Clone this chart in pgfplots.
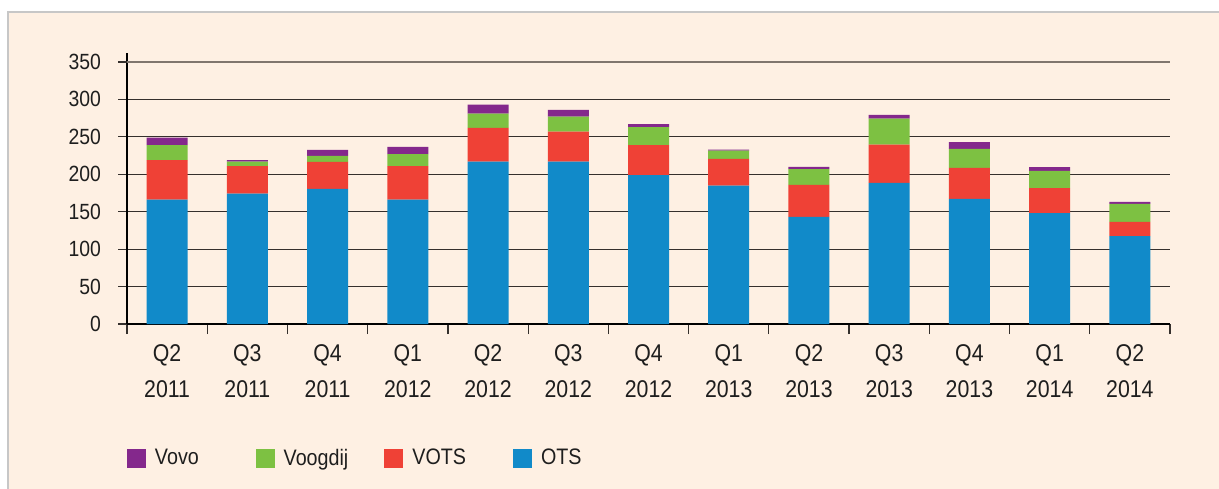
\documentclass[border=0pt]{standalone}
\usepackage{pgfplots}
\pgfplotsset{compat=1.18}
\usepackage{pgfplotstable}
\usepackage{fontspec}
\setmainfont{Liberation Sans}[FakeStretch=0.88]
\definecolor{bg}{HTML}{FEF0E3}
\definecolor{cOTS}{HTML}{118AC9}
\definecolor{cVOTS}{HTML}{EF4136}
\definecolor{cVoog}{HTML}{7DC142}
\definecolor{cVovo}{HTML}{84288C}
\definecolor{gridc}{HTML}{35302D}
\definecolor{gridtop}{HTML}{80766E}
\definecolor{txt}{HTML}{1E1E1E}

\pgfplotstableread{
x OTS VOTS Voogdij Vovo
0 166 53 20 10
1 174 37 6 2
2 180.5 36 8 8
3 166 45 16 9.5
4 217 45 19 12
5 217 40 20 9
6 199 40 24 4
7 185 35.5 11 1.5
8 143 43 21 3
9 188.5 51 35 5
10 167 41.5 25.5 9
11 148 33.5 23 5
12 117.5 19 24 2.5
}\datatable

\pgfplotsset{sqlegend/.style={legend image code/.code={\fill[##1] (0pt,-4.75pt) rectangle (9.5pt,4.75pt);}}}

\begin{document}
\begin{tikzpicture}
\useasboundingbox (-63.5pt,-82pt) rectangle (546pt,162pt);
\fill[white] (-63.5pt,-82pt) rectangle (546pt,162pt);
\filldraw[fill=bg, draw=black!22, line width=0.6pt] (-59.5pt,156pt) rectangle (560pt,-100pt);
\begin{axis}[at={(0,0)}, anchor=south west, scale only axis,
  width=521.5pt, height=135.5pt,
  ybar stacked, bar width=20.5pt,
  xmin=-0.5, xmax=12.5, ymin=0, ymax=362,
  axis x line*=bottom, axis y line*=left,
  axis line style={black, line width=0.6pt},
  xtick=data,
  xticklabels={{Q2\\2011},{Q3\\2011},{Q4\\2011},{Q1\\2012},{Q2\\2012},{Q3\\2012},{Q4\\2012},{Q1\\2013},{Q2\\2013},{Q3\\2013},{Q4\\2013},{Q1\\2014},{Q2\\2014}},
  x tick label style={align=center, font=\fontsize{12.1}{18}\selectfont, text=txt, yshift=-2.2pt},
  y tick label style={font=\fontsize{11}{13}\selectfont, text=txt, xshift=-5pt},
  /pgf/number format/assume math mode=true,
  major x tick style={draw=none},
  minor xtick={-0.5,0.5,...,12.5},
  minor tick length=5pt,
  ytick={0,50,...,300},
  extra y ticks={350},
  extra y tick style={grid style={gridtop, line width=0.7pt}},
  ymajorgrids,
  grid style={gridc, line width=0.6pt},
  tick align=outside, major tick length=4.5pt,
  tick style={gridc, line width=0.6pt},
  legend columns=4,
  reverse legend,
  legend style={at={(rel axis cs:0,0)}, anchor=west, yshift=-67.25pt,
    draw=none, fill=none, inner sep=0pt, outer sep=0pt,
    font=\fontsize{11.2}{13}\selectfont, text=txt,
    nodes={inner xsep=0pt, text width=50.35pt, align=left},
    /tikz/every odd column/.append style={column sep=4.5pt}},
]
\addplot[fill=cOTS, draw=none, sqlegend] table[x=x, y=OTS] {\datatable};
\addlegendentry{OTS}
\addplot[fill=cVOTS, draw=none, sqlegend] table[x=x, y=VOTS] {\datatable};
\addlegendentry{VOTS}
\addplot[fill=cVoog, draw=none, sqlegend] table[x=x, y=Voogdij] {\datatable};
\addlegendentry{Voogdij}
\addplot[fill=cVovo, draw=none, sqlegend] table[x=x, y=Vovo] {\datatable};
\addlegendentry{Vovo}
\end{axis}
\end{tikzpicture}
\end{document}
